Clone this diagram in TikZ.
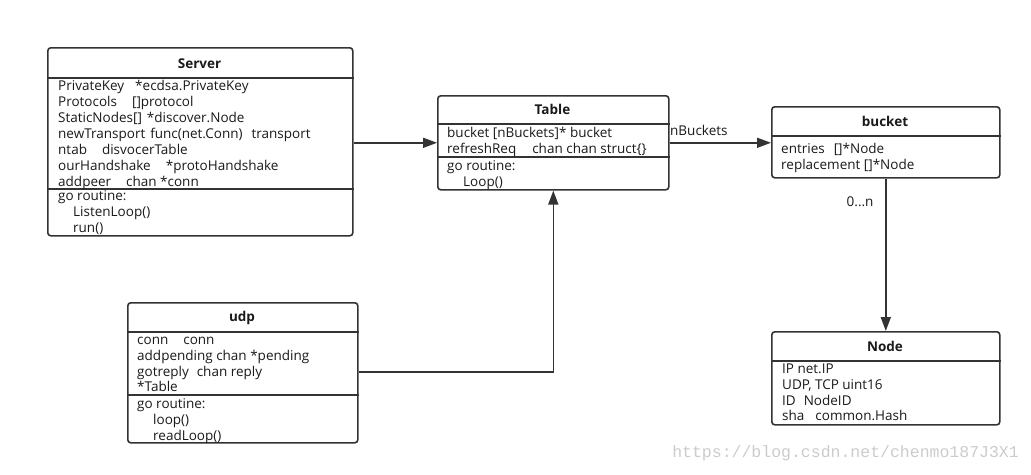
\documentclass[tikz,border=0pt]{standalone}
\usepackage{fontspec}
\setmainfont{Open Sans}
\newfontfamily\wmfont{Liberation Mono}
\usetikzlibrary{arrows.meta}
\definecolor{ln}{HTML}{333333}
\definecolor{tx}{HTML}{1a1a1a}
\newcommand\myg[1]{\hspace*{#1pt}}
\tikzset{
  cls/.style={draw=ln, line width=1.6pt, rounded corners=3pt, anchor=north west, inner sep=0pt, fill=white},
  sep/.style={draw=ln, line width=1.6pt},
  ttl/.style={font=\fontsize{13.5}{15}\selectfont\bfseries, text=tx, inner sep=0pt, anchor=base},
  txt/.style={font=\fontsize{13.5}{16}\selectfont, text=tx, anchor=base west, inner sep=0pt},
  conn/.style={draw=ln, line width=1.6pt, -{Triangle[length=14pt,width=10pt]}},
}
\begin{document}
\begin{tikzpicture}[x=1pt,y=-1pt]
\fill[white] (0,0) rectangle (1031,474);
\useasboundingbox (0,0) rectangle (1031,474);

% Server
\node[cls, minimum width=305pt, minimum height=188pt] (server) at (47,47) {};
\node[ttl] (serverT) at (199.5,68) {Server};
\draw[sep] (server.west |- 0,78) -- (server.east |- 0,78);
\draw[sep] (server.west |- 0,189) -- (server.east |- 0,189);
\node[txt] (s1) at (58,90) {PrivateKey\myg{11}*ecdsa.PrivateKey};
\node[txt] (s2) at (58,106) {Protocols\myg{15}[]protocol};
\node[txt] (s3) at (58,122) {StaticNodes[]\myg{5}*discover.Node};
\node[txt] (s4) at (58,138) {newTransport\myg{5}func(net.Conn)\myg{9}transport};
\node[txt] (s5) at (58,154) {ntab\myg{15}disvocerTable};
\node[txt] (s6) at (58,170) {ourHandshake\myg{15}*protoHandshake};
\node[txt] (s7) at (58,186) {addpeer\myg{15}chan *conn};
\node[txt] (s8) at (58,200) {go routine:};
\node[txt] (s9) at (73,216) {ListenLoop()};
\node[txt] (s10) at (73,232) {run()};

% Table
\node[cls, minimum width=231pt, minimum height=94pt] (table) at (437,95) {};
\node[ttl] (tableT) at (552.5,114) {Table};
\draw[sep] (table.west |- 0,124) -- (table.east |- 0,124);
\draw[sep] (table.west |- 0,157) -- (table.east |- 0,157);
\node[txt] (t1) at (447,137) {bucket [nBuckets]* bucket};
\node[txt] (t2) at (447,153) {refreshReq\myg{16}chan chan struct\{\}};
\node[txt] (t3) at (447,170) {go routine:};
\node[txt] (t4) at (463,186) {Loop()};

% bucket
\node[cls, minimum width=228pt, minimum height=71pt] (bucket) at (771,106) {};
\node[ttl] (bucketT) at (885,126) {bucket};
\draw[sep] (bucket.west |- 0,136) -- (bucket.east |- 0,136);
\node[txt] (b1) at (781,153) {entries\myg{9}[]*Node};
\node[txt] (b2) at (781,169) {replacement []*Node};

% udp
\node[cls, minimum width=230pt, minimum height=140pt] (udp) at (127,302) {};
\node[ttl] (udpT) at (242,321) {udp};
\draw[sep] (udp.west |- 0,332) -- (udp.east |- 0,332);
\draw[sep] (udp.west |- 0,395) -- (udp.east |- 0,395);
\node[txt] (u1) at (137,344) {conn\myg{15}conn};
\node[txt] (u2) at (137,360) {addpending chan *pending};
\node[txt] (u3) at (137,376) {gotreply\myg{8}chan reply};
\node[txt] (u4) at (137,391.5) {*Table};
\node[txt] (u5) at (137,408) {go routine:};
\node[txt] (u6) at (153,424) {loop()};
\node[txt] (u7) at (153,440) {readLoop()};

% Node
\node[cls, minimum width=228pt, minimum height=93pt] (nodebox) at (771,331) {};
\node[ttl] (nodeT) at (885,351) {Node};
\draw[sep] (nodebox.west |- 0,361) -- (nodebox.east |- 0,361);
\node[txt] (n1) at (782,373) {IP net.IP};
\node[txt] (n2) at (782,389) {UDP, TCP uint16};
\node[txt] (n3) at (782,405) {ID\myg{8}NodeID};
\node[txt] (n4) at (782,420.5) {sha\myg{11}common.Hash};

% connectors
\draw[conn] (server.east |- table.west) -- (table.west);
\draw[conn] (table.east) -- (bucket.west |- table.east);
\node[txt] (nbl) at (670,135.5) {nBuckets};
\draw[conn] (udp.east |- 0,372) -| (table.south);
\draw[conn] (bucket.south) -- (nodebox.north);
\node[txt] (mult) at (846.5,206.5) {0...n};

% watermark
\node[font=\wmfont\fontsize{16.5}{16.5}\selectfont, text=black!20, anchor=east, inner sep=0pt] (wm) at (1019,453) {https://blog.csdn.net/chenmo187J3X1};
\end{tikzpicture}
\end{document}
